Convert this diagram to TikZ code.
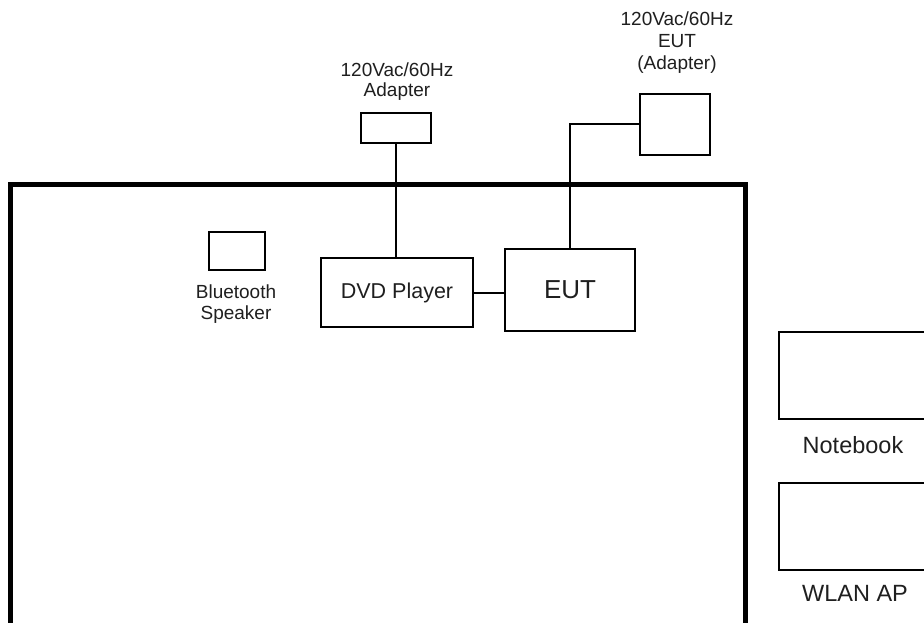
\documentclass[tikz,border=0pt]{standalone}
\usepackage{fontspec}
\setmainfont{Liberation Sans}
\begin{document}
\begin{tikzpicture}[x=1pt,y=-1pt,
  box/.style={draw=black,line width=2pt,rectangle,inner sep=0pt},
  wire/.style={draw=black,line width=2pt},
  small/.style={font=\fontsize{19}{22}\selectfont,inner sep=0pt,anchor=base,text=black!88},
  mid/.style={font=\fontsize{23.5}{26}\selectfont,inner sep=0pt,anchor=base,text=black!88}]
\useasboundingbox (0,0) rectangle (924,623);
\clip (0,0) rectangle (924,623);
\fill[white] (0,0) rectangle (924,623);
% table
\draw[line width=5pt,line join=miter] (10.5,640) -- (10.5,185) -- (745,185) -- (745,640);
% boxes
\node[box,minimum width=70pt,minimum height=30pt] (adp1) at (396,128.5) {};
\node[box,minimum width=70pt,minimum height=61pt] (adp2) at (675,124.5) {};
\node[box,minimum width=56pt,minimum height=38pt] (bt) at (237,251) {};
\node[box,minimum width=152pt,minimum height=69pt,font=\fontsize{21.5}{24}\selectfont,text=black!88] (dvd) at (397,292.5) {DVD Player};
\node[box,minimum width=130pt,minimum height=82pt,font=\fontsize{26}{28}\selectfont,text=black!88] (eut) at (570,290) {EUT};
\node[box,minimum width=200pt,minimum height=87pt,anchor=west] (nb) at (778,375.5) {};
\node[box,minimum width=200pt,minimum height=87pt,anchor=west] (ap) at (778,526.5) {};
% wires
\draw[wire] (adp1.south) -- (adp1.south |- dvd.north);
\draw[wire] (adp2.west) -| (eut.north);
\draw[wire] (dvd.east) -- (dvd.east -| eut.west);
% labels
\node[small] (l1a) at (397,77) {120Vac/60Hz};
\node[small] (l1b) at (397,97) {Adapter};
\node[small] (l2a) at (677,26) {120Vac/60Hz};
\node[small] (l2b) at (677,48) {EUT};
\node[small] (l2c) at (677,70) {(Adapter)};
\node[small] (l3a) at (236,298) {Bluetooth};
\node[small] (l3b) at (236,319) {Speaker};
\node[mid] (l4) at (853,453) {Notebook};
\node[mid] (l5) at (855,601) {WLAN AP};
\end{tikzpicture}
\end{document}
